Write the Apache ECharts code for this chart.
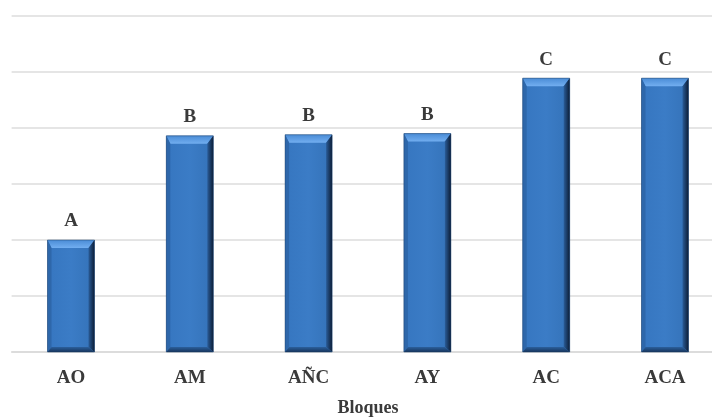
<!DOCTYPE html>
<html>
<head>
<meta charset="utf-8">
<script src="https://cdn.jsdelivr.net/npm/echarts@6/dist/echarts.min.js"></script>
<style>html,body{margin:0;padding:0;background:#fff}#c{width:712px;height:417px}</style>
</head>
<body>
<div id="c"></div>
<script>
var categories = ['AO', 'AM', 'AÑC', 'AY', 'AC', 'ACA'];
var values = [2.0, 3.86, 3.88, 3.9, 4.89, 4.89];
var letters = ['A', 'B', 'B', 'B', 'C', 'C'];
var axisName = 'Bloques';

var chart = echarts.init(document.getElementById('c'));
var FONT = '"Liberation Serif","Times New Roman",serif';
var BAR_W = 47;

function renderItem(params, api) {
  var i = api.value(0);
  var v = api.value(1);
  var top = api.coord([i, v]);
  var base = api.coord([i, 0]);
  var cx = top[0];
  var x0 = cx - BAR_W / 2, x1 = cx + BAR_W / 2;
  var y0 = top[1], y1 = base[1];
  var b = 8, br = 6, bb = 5;
  var children = [
    {type: 'rect', shape: {x: x0, y: y0, width: BAR_W, height: y1 - y0},
     style: {fill: new echarts.graphic.LinearGradient(0, 0, 1, 0, [
       {offset: 0, color: '#3676c0'}, {offset: 0.5, color: '#3b7cc6'}, {offset: 1, color: '#3472b8'}])}},
    // top bevel
    {type: 'polygon', shape: {points: [[x0, y0], [x1, y0], [x1 - br, y0 + b], [x0 + 4, y0 + b]]},
     style: {fill: new echarts.graphic.LinearGradient(0, 0, 0, 1, [
       {offset: 0, color: '#4a8cd6'}, {offset: 1, color: '#72aef0'}])}},
    // left bevel
    {type: 'polygon', shape: {points: [[x0, y0], [x0 + 4, y0 + b], [x0 + 4, y1 - bb], [x0, y1]]},
     style: {fill: '#2e67aa'}},
    // right bevel
    {type: 'polygon', shape: {points: [[x1, y0], [x1, y1], [x1 - br, y1 - bb], [x1 - br, y0 + b]]},
     style: {fill: new echarts.graphic.LinearGradient(0, 0, 1, 0, [
       {offset: 0, color: '#2a5c98'}, {offset: 1, color: '#0c1d36'}])}},
    // bottom bevel
    {type: 'polygon', shape: {points: [[x0, y1], [x1, y1], [x1 - br, y1 - bb], [x0 + 4, y1 - bb]]},
     style: {fill: new echarts.graphic.LinearGradient(0, 0, 0, 1, [
       {offset: 0, color: '#2b5f9c'}, {offset: 1, color: '#17355c'}])}},
    // outline
    {type: 'rect', shape: {x: x0, y: y0, width: BAR_W, height: y1 - y0},
     style: {fill: 'none', stroke: '#1d3f6a', lineWidth: 1, opacity: 0.5}},
    // letter label
    {type: 'text', x: cx, y: y0 - 9,
     style: {text: letters[i], font: 'bold 19px ' + FONT, fill: '#3a3a3a',
       align: 'center', verticalAlign: 'bottom'}}
  ];
  return {type: 'group', children: children};
}

chart.setOption({
  animation: false,
  backgroundColor: '#ffffff',
  grid: {left: 11.6, width: 712.8, top: 16, height: 336, containLabel: false, outerBoundsMode: 'none'},
  xAxis: {
    type: 'category',
    data: categories,
    axisLine: {show: true, lineStyle: {color: '#d9d9d9', width: 1.5}},
    axisTick: {show: false},
    axisLabel: {color: '#3a3a3a', fontFamily: FONT, fontWeight: 'bold', fontSize: 19, margin: 17},
    name: axisName,
    nameLocation: 'middle',
    nameGap: 47,
    nameTextStyle: {color: '#3a3a3a', fontFamily: FONT, fontWeight: 'bold', fontSize: 18}
  },
  yAxis: {
    type: 'value',
    min: 0, max: 6, interval: 1,
    axisLabel: {show: false},
    axisLine: {show: false},
    axisTick: {show: false},
    splitLine: {lineStyle: {color: '#dcdcdc', width: 1.5}}
  },
  series: [{
    type: 'custom',
    renderItem: renderItem,
    encode: {x: 0, y: 1},
    data: values.map(function (v, i) { return [i, v]; })
  }]
});
</script>
</body>
</html>
